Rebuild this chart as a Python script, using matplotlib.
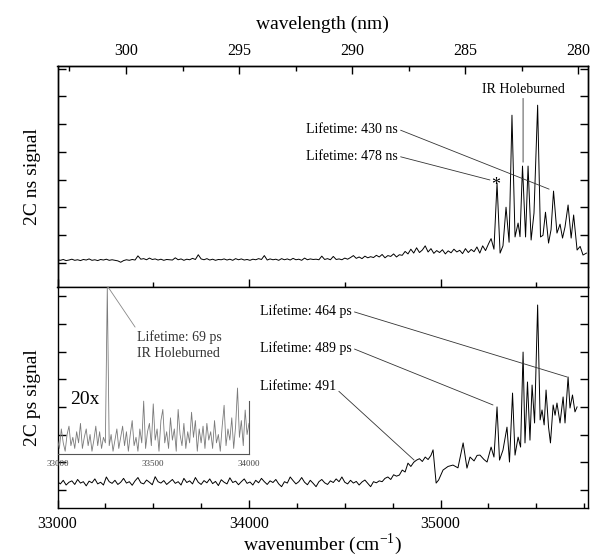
"""
plot.py — two-colour (2C) ns / ps spectra with wavelength axis on top.
"""

import numpy as np
import matplotlib
matplotlib.use('Agg')   # headless
import matplotlib.pyplot as plt
from matplotlib.ticker import MultipleLocator

plt.rcParams['font.family'] = ['Liberation Serif', 'DejaVu Serif']
plt.rcParams['mathtext.fontset'] = 'custom'
plt.rcParams['mathtext.rm'] = 'Liberation Serif'
plt.rcParams['axes.linewidth'] = 1.0

# regular part of the scan (cm^-1)
SCAN_START = 33000
SCAN_STEP = 15
WN_MIN, WN_MAX = 33000, 35770

# ---- 2C ns signal -------------------------------------------------------
NS_BASE = [
    0.12, 0.10, 0.13, 0.09, 0.11, 0.14, 0.10, 0.12, 0.09, 0.13,
    0.11, 0.15, 0.10, 0.12, 0.09, 0.13, 0.11, 0.14, 0.10, 0.12,
    0.10, 0.08, 0.03, 0.09, 0.12, 0.10, 0.13, 0.11, 0.26, 0.14,
    0.16, 0.12, 0.18, 0.13, 0.15, 0.11, 0.14, 0.10, 0.13, 0.12,
    0.11, 0.19, 0.12, 0.15, 0.10, 0.14, 0.12, 0.17, 0.13, 0.30,
    0.15, 0.12, 0.16, 0.11, 0.14, 0.10, 0.13, 0.12, 0.15, 0.11,
    0.14, 0.10, 0.16, 0.12, 0.15, 0.11, 0.13, 0.10, 0.14, 0.12,
    0.16, 0.13, 0.27, 0.11, 0.15, 0.12, 0.14, 0.10, 0.16, 0.12,
    0.15, 0.11, 0.17, 0.12, 0.14, 0.10, 0.18, 0.12, 0.15, 0.13,
    0.14, 0.12, 0.25, 0.13, 0.16, 0.12, 0.24, 0.13, 0.15, 0.12,
    0.18, 0.14, 0.20, 0.27, 0.17, 0.22, 0.16, 0.25, 0.19, 0.23,
    0.20, 0.28, 0.22, 0.31, 0.19, 0.27, 0.24, 0.33, 0.22, 0.30,
    0.28, 0.42, 0.33, 0.50, 0.36, 0.55, 0.38, 0.47, 0.62, 0.40,
    0.52, 0.35, 0.45, 0.38, 0.48, 0.33, 0.44, 0.37, 0.50, 0.40,
    0.46, 0.34, 0.52, 0.38, 0.49, 0.41, 0.58, 0.36, 0.62, 0.45,
]
NS_PEAK_WN = [
    35251, 35264, 35279, 35295, 35311, 35326, 35342, 35358, 35373, 35389,
    35405, 35415, 35428, 35444, 35457, 35473, 35488, 35507, 35522, 35535,
    35548, 35564, 35577, 35590, 35608, 35624, 35637, 35650, 35666, 35682,
    35695, 35713, 35729, 35744, 35762,
]
NS_PEAK = [
    0.70, 0.88, 0.50, 2.88, 0.36, 0.62, 2.01, 0.75, 5.32, 0.94,
    1.44, 0.95, 3.49, 0.94, 3.49, 0.83, 1.80, 5.68, 0.94, 1.00,
    1.83, 0.72, 1.20, 2.59, 1.08, 1.40, 0.90, 1.30, 2.09, 0.90,
    1.73, 0.47, 0.60, 0.29, 0.36,
]

# ---- 2C ps signal -------------------------------------------------------
PS_BASE = [
    0.30, 0.22, 0.35, 0.18, 0.28, 0.33, 0.20, 0.38, 0.25, 0.30,
    0.15, 0.32, 0.26, 0.40, 0.22, 0.28, 0.18, 0.47, 0.30, 0.24,
    0.35, 0.20, 0.28, 0.42, 0.25, 0.30, 0.17, 0.33, 0.45, 0.26,
    0.22, 0.36, 0.28, 0.19, 0.48, 0.30, 0.25, 0.34, 0.20, 0.29,
    0.38, 0.24, 0.30, 0.18, 0.42, 0.27, 0.33, 0.22, 0.45, 0.28,
    0.20, 0.34, 0.26, 0.40, 0.23, 0.31, 0.16, 0.37, 0.28, 0.22,
    0.44, 0.27, 0.32, 0.19, 0.30, 0.40, 0.24, 0.29, 0.18, 0.35,
    0.26, 0.42, 0.30, 0.20, 0.33, 0.27, 0.38, 0.22, 0.12, 0.30,
    0.25, 0.47, 0.34, 0.22, 0.30, 0.45, 0.28, 0.19, 0.35, 0.24,
    0.12, 0.30, 0.38, 0.26, 0.20, 0.33, 0.27, 0.40, 0.30, 0.47,
    0.28, 0.22, 0.35, 0.25, 0.31, 0.18, 0.29, 0.36, 0.24, 0.12,
    0.30, 0.26, 0.33, 0.30, 0.42, 0.47, 0.38, 0.55, 0.50, 0.54,
    0.72, 0.65, 0.97, 0.85, 1.00, 1.08, 1.13, 1.03, 1.19, 1.10,
]
PS_PEAK_WN = [
    34950, 34961, 34977, 34990, 35013, 35039, 35065, 35091, 35118, 35138,
    35154, 35175, 35191, 35206, 35227, 35243, 35264, 35279, 35295, 35308,
    35326, 35347, 35360, 35376, 35389, 35405, 35418, 35431, 35441, 35454,
    35467, 35478, 35491, 35507, 35520, 35530, 35541, 35551, 35564, 35574,
    35588, 35598, 35608, 35624, 35640, 35650, 35666, 35676, 35689, 35702,
    35713,
]
PS_PEAK = [
    1.25, 1.45, 0.25, 0.36, 0.72, 0.85, 0.90, 0.80, 1.70, 0.79,
    1.19, 1.05, 1.25, 1.26, 1.10, 1.01, 1.55, 1.19, 3.00, 1.08,
    1.44, 2.27, 1.01, 3.50, 1.26, 1.91, 1.55, 4.98, 1.70, 3.90,
    1.80, 3.79, 2.42, 6.68, 2.53, 2.89, 2.35, 3.61, 2.27, 1.70,
    3.07, 2.70, 3.14, 2.42, 3.36, 2.42, 4.08, 2.96, 3.43, 2.82,
    3.00,
]

# ---- 20x inset (33000-34000 cm^-1) --------------------------------------
INSET_STEP = 10
INSET_SIG = [
    0.5, 0.2, 0.9, 0.4, 0.1, 0.7, 1.0, 0.3, 0.6, 0.2,
    0.8, 0.4, 1.1, 0.2, 0.6, 0.9, 0.3, 0.7, 0.1, 0.5,
    1.0, 0.3, 0.8, 0.2, 0.6, 0.4, 6.0, 0.3, 0.7, 0.1,
    0.5, 0.9, 0.2, 0.6, 1.0, 0.3, 0.8, 0.1, 0.7, 1.2,
    0.3, 0.6, 0.1, 0.9, 0.4, 1.9, 0.2, 0.8, 1.1, 0.3,
    1.8, 0.5, 0.9, 0.1, 1.2, 1.6, 0.4, 0.8, 0.2, 1.3,
    0.5, 0.9, 0.1, 1.6, 0.7, 0.3, 1.1, 0.2, 0.8, 0.4,
    1.5, 0.6, 1.2, 0.1, 0.9, 0.4, 1.0, 0.2, 1.1, 0.5,
    0.8, 0.2, 1.2, 0.4, 0.7, 0.1, 1.0, 1.75, 0.3, 0.9,
    0.5, 1.3, 0.2, 1.0, 2.37, 0.6, 1.2, 0.3, 1.58, 0.7, 1.1,
]

WL_TICKS = [300, 295, 290, 285, 280]


def scan(base, peak_wn, peak):
    wn = SCAN_START + SCAN_STEP * np.arange(len(base))
    return np.concatenate([wn, peak_wn]), np.concatenate([base, peak])


def style_axis(ax):
    ax.tick_params(which='both', direction='in', top=False, right=True,
                   labelleft=False, width=1.0)
    ax.tick_params(which='major', length=6)
    ax.tick_params(which='minor', length=3.5)
    ax.yaxis.set_major_locator(MultipleLocator(1))


ANNOT_KW = dict(fontsize=10, ha='left', va='center')
LINE_KW = dict(arrowstyle='-', lw=0.6, color='#333333',
               shrinkA=0, shrinkB=0)

fig = plt.figure(figsize=(5.9, 5.58), dpi=100)
L, W = 57.5 / 590, 530.5 / 590
ax1 = fig.add_axes([L, 1 - 287 / 558, W, 221 / 558])
ax2 = fig.add_axes([L, 1 - 508 / 558, W, 221 / 558])

# top panel: ns
wn, sig = scan(NS_BASE, NS_PEAK_WN, NS_PEAK)
ax1.plot(wn, sig, color='black', lw=0.7)
ax1.set_xlim(WN_MIN, WN_MAX)
ax1.set_ylim(-0.86, 7.09)
style_axis(ax1)
ax1.tick_params(labelbottom=False)
ax1.xaxis.set_major_locator(MultipleLocator(1000))
ax1.xaxis.set_minor_locator(MultipleLocator(500))
ax1.set_ylabel('2C ns signal', fontsize=14, labelpad=12)

ax1.annotate('Lifetime: 430 ns', xy=(35567, 2.66), xytext=(34298, 4.82),
             arrowprops=dict(relpos=(1, 0.5), **LINE_KW), **ANNOT_KW)
ax1.annotate('Lifetime: 478 ns', xy=(35258, 2.99), xytext=(34298, 3.85),
             arrowprops=dict(relpos=(1, 0.5), **LINE_KW), **ANNOT_KW)
ax1.annotate('IR Holeburned', xy=(35431, 3.63), xytext=(35431, 6.26),
             fontsize=10, ha='center', va='center',
             arrowprops=dict(relpos=(0.5, 0), **LINE_KW))
ax1.text(35290, 2.80, '*', fontsize=13, ha='center', va='center')

# wavelength axis (linear, as in the original)
axw = ax1.twiny()
axw.set_xlim(1e7 / WN_MIN, 1e7 / WN_MAX)
axw.set_xticks(WL_TICKS)
axw.xaxis.set_minor_locator(MultipleLocator(2.5))
axw.tick_params(which='both', direction='in', labelsize=11.5, pad=5, width=1.0)
axw.tick_params(which='major', length=6)
axw.tick_params(which='minor', length=3.5)
axw.set_xlabel('wavelength (nm)', fontsize=14, labelpad=10)

# bottom panel: ps
wn, sig = scan(PS_BASE, PS_PEAK_WN, PS_PEAK)
ax2.plot(wn, sig, color='black', lw=0.7)
ax2.set_xlim(WN_MIN, WN_MAX)
ax2.set_ylim(-0.65, 7.33)
style_axis(ax2)
ax2.spines['top'].set_visible(False)
ax2.xaxis.set_major_locator(MultipleLocator(1000))
ax2.xaxis.set_minor_locator(MultipleLocator(250))
ax2.tick_params(axis='x', labelsize=11.5, pad=6)
ax2.set_ylabel('2C ps signal', fontsize=14, labelpad=12)
ax2.set_xlabel(r'wavenumber (cm$^{\mathregular{-1}}$)', fontsize=14,
               labelpad=-1)

ax2.annotate('Lifetime: 464 ps', xy=(35661, 4.08), xytext=(34057, 6.46),
             arrowprops=dict(relpos=(1, 0.5), **LINE_KW), **ANNOT_KW)
ax2.annotate('Lifetime: 489 ps', xy=(35274, 3.07), xytext=(34057, 5.13),
             arrowprops=dict(relpos=(1, 0.5), **LINE_KW), **ANNOT_KW)
ax2.annotate('Lifetime: 491', xy=(34862, 1.08), xytext=(34057, 3.75),
             arrowprops=dict(relpos=(1, 0.3), **LINE_KW), **ANNOT_KW)
ax2.text(33064, 3.25, '20x', fontsize=14, ha='left', va='center')

# 20x inset
axi = fig.add_axes([L, 1 - 454 / 558, 191.5 / 590, 167 / 558])
axi.patch.set_alpha(0)
iwn = SCAN_START + INSET_STEP * np.arange(len(INSET_SIG))
axi.plot(iwn, INSET_SIG, color='#7a7a7a', lw=0.6)
axi.set_xlim(33000, 34000)
axi.set_ylim(0, 6.0)
for s in ('top', 'left'):
    axi.spines[s].set_visible(False)
for s in ('bottom', 'right'):
    axi.spines[s].set_color('#555555')
    axi.spines[s].set_linewidth(0.8)
axi.spines['right'].set_bounds(0, 1.9)
axi.set_xticks([33000, 33500, 34000])
axi.set_yticks([])
axi.tick_params(axis='x', length=0, labelsize=6.5, labelcolor='#444444', pad=4)
axi.annotate('Lifetime: 69 ps\nIR Holeburned', xy=(33264, 6.0),
             xytext=(33415, 4.46), fontsize=10, ha='left', va='top',
             color='#333333', linespacing=1.3,
             arrowprops=dict(arrowstyle='-', lw=0.6, color='#888888',
                             relpos=(0, 1), shrinkA=0, shrinkB=0))

fig.savefig('out.png', dpi=100)
